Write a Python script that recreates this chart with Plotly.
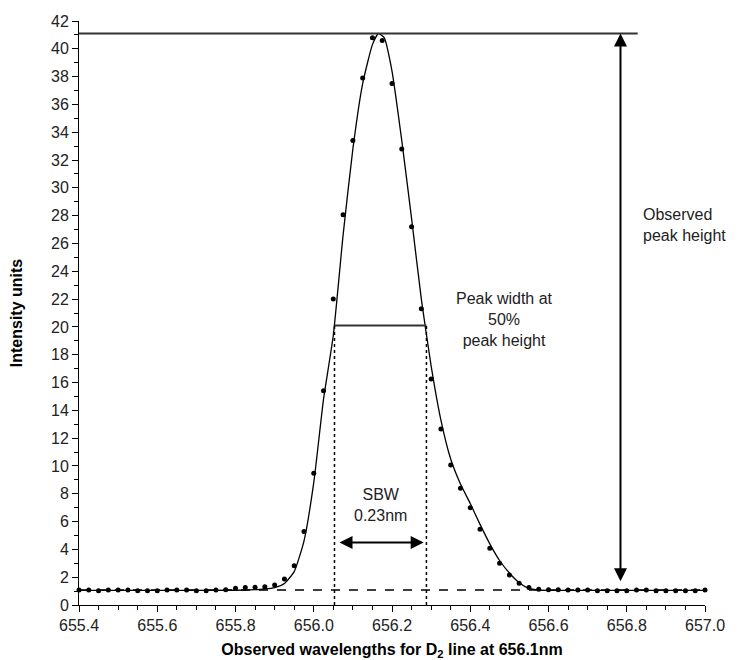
import plotly.graph_objects as go

# measured points (nm, intensity)
wavelength = [655.400, 655.425, 655.450, 655.475, 655.500, 655.525, 655.550, 655.575,
              655.600, 655.625, 655.650, 655.675, 655.700, 655.725, 655.750, 655.775,
              655.800, 655.825, 655.850, 655.875, 655.900, 655.925, 655.950, 655.975,
              656.000, 656.025, 656.050, 656.075, 656.100, 656.125, 656.150, 656.175,
              656.200, 656.225, 656.250, 656.275, 656.300, 656.325, 656.350, 656.375,
              656.400, 656.425, 656.450, 656.475, 656.500, 656.525, 656.550, 656.575,
              656.600, 656.625, 656.650, 656.675, 656.700, 656.725, 656.750, 656.775,
              656.800, 656.825, 656.850, 656.875, 656.900, 656.925, 656.950, 656.975,
              657.000]
intensity = [1.08, 1.08, 1.03, 1.08, 1.08, 1.08, 1.03, 1.03,
             1.03, 1.08, 1.08, 1.08, 1.03, 1.03, 1.08, 1.10,
             1.20, 1.25, 1.27, 1.32, 1.44, 1.87, 2.83, 5.28,
             9.47, 15.4, 22.0, 28.06, 33.4, 37.9, 40.8, 40.6,
             37.5, 32.8, 27.2, 21.3, 16.26, 12.66, 10.07, 8.39,
             7.0, 5.44, 4.08, 3.0, 2.16, 1.56, 1.25, 1.13,
             1.10, 1.10, 1.08, 1.08, 1.08, 1.03, 1.03, 1.03,
             1.03, 1.08, 1.08, 1.03, 1.03, 1.03, 1.03, 1.03,
             1.08]

# fitted profile
fit_wavelength = [655.40, 655.60, 655.80, 655.85, 655.875, 655.90, 655.925, 655.95,
                  655.975, 656.00, 656.025, 656.05, 656.075, 656.10, 656.125, 656.15,
                  656.165, 656.18, 656.20, 656.225, 656.25, 656.275, 656.30, 656.325,
                  656.35, 656.375, 656.40, 656.425, 656.45, 656.475, 656.50, 656.525,
                  656.55, 656.575, 656.60, 656.80, 657.00]
fit_intensity = [1.05, 1.05, 1.06, 1.1, 1.15, 1.25, 1.55, 2.4,
                 4.6, 8.8, 14.8, 19.4, 26.6, 32.8, 37.5, 40.3,
                 41.1, 40.8, 38.4, 33.4, 27.8, 22.0, 17.2, 13.3,
                 10.5, 8.7, 7.3, 5.8, 4.4, 3.2, 2.3, 1.6,
                 1.2, 1.08, 1.05, 1.05, 1.05]

peak_height = 41.1
baseline = 1.08
half_height = 20.1
half_left, half_right = 656.053, 656.288
height_arrow_x = 656.784
height_arrow_bottom = 1.6
top_line_end = 656.828
sbw_y = 4.5
sbw_left, sbw_right = 656.062, 656.281

FONT = 'Liberation Sans, Arial, sans-serif'
INK = '#222222'


def draw_figure():
    fig = go.Figure()
    fig.add_trace(go.Scatter(x=fit_wavelength, y=fit_intensity, mode='lines',
                             line=dict(color='black', width=1.3, shape='spline', smoothing=0.5),
                             showlegend=False, hoverinfo='skip'))
    fig.add_trace(go.Scatter(x=wavelength, y=intensity, mode='markers',
                             marker=dict(color='black', size=5), cliponaxis=False,
                             showlegend=False))

    # reference lines
    fig.add_shape(type='line', x0=655.4, x1=top_line_end, y0=peak_height, y1=peak_height,
                  line=dict(color='#333333', width=2))
    fig.add_shape(type='line', x0=half_left, x1=half_right, y0=half_height, y1=half_height,
                  line=dict(color='#333333', width=2))
    for xv in [half_left, half_right]:
        fig.add_shape(type='line', x0=xv, x1=xv, y0=0, y1=half_height,
                      line=dict(color='black', width=1.5, dash='dot'))
    fig.add_shape(type='line', x0=655.4, x1=657.0, y0=baseline, y1=baseline,
                  line=dict(color='black', width=1.5, dash='dash'))

    # arrows
    fig.add_annotation(x=height_arrow_x, y=peak_height, ax=height_arrow_x, ay=height_arrow_bottom,
                       xref='x', yref='y', axref='x', ayref='y', text='', showarrow=True,
                       arrowhead=2, arrowside='end+start', arrowsize=1.3, arrowwidth=2,
                       arrowcolor='black')
    fig.add_annotation(x=sbw_right, y=sbw_y, ax=sbw_left, ay=sbw_y,
                       xref='x', yref='y', axref='x', ayref='y', text='', showarrow=True,
                       arrowhead=2, arrowside='end+start', arrowsize=1.3, arrowwidth=2,
                       arrowcolor='black')

    # labels
    fig.add_annotation(x=656.836, y=27.3, text='Observed<br>peak height', showarrow=False,
                       xanchor='left', yanchor='middle', align='left',
                       font=dict(family=FONT, size=16, color=INK))
    fig.add_annotation(x=656.488, y=20.5, text='Peak width at<br>50%<br>peak height',
                       showarrow=False, xanchor='center', yanchor='middle', align='center',
                       font=dict(family=FONT, size=16, color=INK))
    fig.add_annotation(x=656.17, y=7.2, text='SBW<br>0.23nm', showarrow=False,
                       xanchor='center', yanchor='middle', align='center',
                       font=dict(family=FONT, size=16, color=INK))

    # the page body adds an 8px offset, so the figure is a bit smaller than the window
    fig.update_layout(
        width=735, height=652,
        margin=dict(l=71, r=38, t=13, b=55),
        plot_bgcolor='white', paper_bgcolor='white',
        font=dict(family=FONT, size=16, color=INK),
        xaxis=dict(range=[655.4, 657.0], dtick=0.2, tick0=655.4, tickformat='.1f',
                   automargin=False,
                   showgrid=False, zeroline=False, showline=True, linecolor='black', linewidth=1,
                   ticks='outside', ticklen=6, tickcolor='black',
                   minor=dict(dtick=0.05, ticks='outside', ticklen=4, tickcolor='black'),
                   title=dict(text='<b>Observed wavelengths for D<sub>2</sub> line at 656.1nm</b>',
                              font=dict(family=FONT, size=16, color='black'), standoff=12)),
        yaxis=dict(range=[0, 42], dtick=2, showgrid=False, zeroline=False,
                   automargin=False,
                   showline=True, linecolor='black', linewidth=1,
                   ticks='outside', ticklen=6, tickcolor='black',
                   minor=dict(dtick=1, ticks='outside', ticklen=4, tickcolor='black'),
                   title=dict(text='<b>Intensity units</b>',
                              font=dict(family=FONT, size=16, color='black'), standoff=32)),
    )
    fig.write_html('out.html')


if __name__ == '__main__':
    draw_figure()
